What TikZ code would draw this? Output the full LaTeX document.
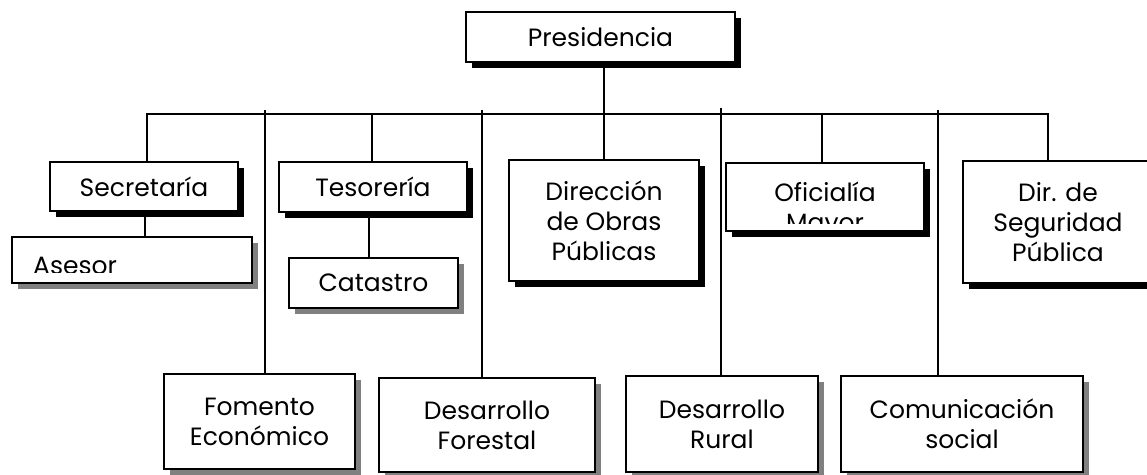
\documentclass[tikz,border=0pt]{standalone}
\usepackage{fontspec}
\setmainfont{Poppins}
\usetikzlibrary{shadows,calc}

\begin{document}
\begin{tikzpicture}[
      x=1pt,y=-1pt,
      unit/.style={draw=black,line width=2pt,fill=white,align=center,inner sep=0pt,
                   font=\fontsize{25}{30}\selectfont},
      blackshadow/.style={drop shadow={shadow xshift=6pt,shadow yshift=-6pt,fill=black,opacity=1}},
      grayshadow/.style={drop shadow={shadow xshift=6pt,shadow yshift=-6pt,fill=black!50,opacity=1}},
      txt/.style={font=\fontsize{25}{30}\selectfont,inner sep=0pt,align=center},
      link/.style={draw=black,line width=2pt}
    ]
    \useasboundingbox (0,0) rectangle (1147,474);

    % top level
    \node[unit,blackshadow,minimum width=269pt,minimum height=50pt] (Pres) at (600.5,37) {Presidencia};

    % second row
    \node[unit,blackshadow,minimum width=188pt,minimum height=49pt] (Secr) at (144,186.5) {Secretaría};
    \node[unit,blackshadow,minimum width=188pt,minimum height=50pt] (Teso) at (373,187) {Tesorería};
    \node[unit,blackshadow,minimum width=190pt,minimum height=121pt] (Obras) at (604,220.5) {Dirección\\de Obras\\Públicas};
    \node[unit,blackshadow,minimum width=198pt,minimum height=68pt] (Ofic) at (825,197) {};
    \node[unit,blackshadow,minimum width=190pt,minimum height=122pt] (Segu) at (1058,222) {Dir. de\\Seguridad\\Pública};

    % under secretaria / tesoreria
    \node[unit,grayshadow,minimum width=240pt,minimum height=46pt] (Ases) at (132,260) {};
    \node[unit,grayshadow,minimum width=169pt,minimum height=50pt] (Cata) at (373.5,283) {Catastro};

    % bottom row
    \node[unit,grayshadow,minimum width=191pt,minimum height=95pt] (Fome) at (259.5,421.5) {Fomento\\Económico};
    \node[unit,grayshadow,minimum width=216pt,minimum height=94pt] (Fore) at (487,425) {Desarrollo\\Forestal};
    \node[unit,grayshadow,minimum width=192pt,minimum height=96pt] (Rura) at (722,424) {Desarrollo\\Rural};
    \node[unit,grayshadow,minimum width=242pt,minimum height=96pt] (Comu) at (962,424) {Comunicación\\social};

    % texts cut off by their boxes
    \begin{scope}
      \clip (Ases.north west) rectangle ([yshift=12pt]Ases.south east);
      \node[txt,anchor=base west] (AsesT) at (33,274) {Asesor};
    \end{scope}
    \begin{scope}
      \clip (Ofic.north west) rectangle ([yshift=9pt]Ofic.south east);
      \node[txt] (OficT) at (825,210) {Oficialía\\Mayor};
    \end{scope}

    % bus
    \coordinate (busL) at (147,114);
    \coordinate (busR) at (1048,114);
    \draw[link] (Pres.south -| Obras.north) -- (Obras.north);
    \draw[link] (busL |- Secr.north) -- (busL) -- (busR) -- (busR |- Segu.north);
    \draw[link] (Teso.north -| 372,0) -- (372,114);
    \draw[link] (Ofic.north -| 822,0) -- (822,114);

    % long drops, sticking out above the bus
    \coordinate (d1) at (265,110);
    \coordinate (d2) at (482,110);
    \coordinate (d3) at (721,108);
    \coordinate (d4) at (938,110);
    \draw[link] (d1) -- (d1 |- Fome.north);
    \draw[link] (d2) -- (d2 |- Fore.north);
    \draw[link] (d3) -- (d3 |- Rura.north);
    \draw[link] (d4) -- (d4 |- Comu.north);

    % to the sub units
    \draw[link] (Secr.south -| 145,0) -- (145,0 |- Ases.north);
    \draw[link] (Teso.south -| 369,0) -- (369,0 |- Cata.north);
  \end{tikzpicture}
\end{document}
